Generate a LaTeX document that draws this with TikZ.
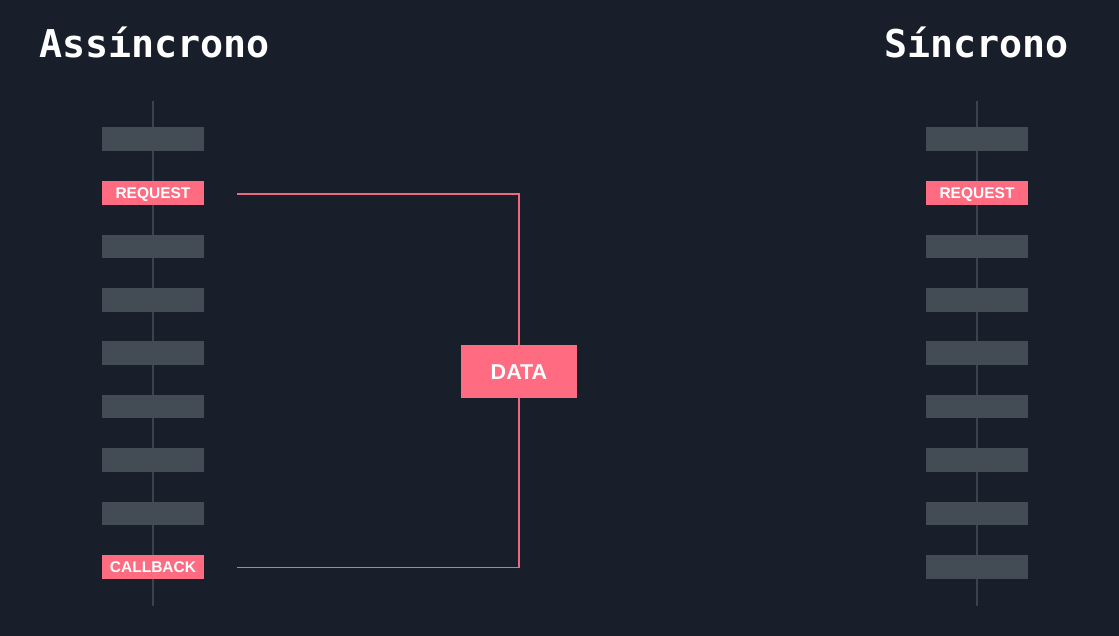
\documentclass[tikz,border=0pt]{standalone}
\usepackage{fontspec}
\setmainfont{Liberation Sans}
\newfontfamily\titlefont{DejaVu Sans Mono}
\newfontfamily\labelfont{Liberation Sans}
\definecolor{bgc}{HTML}{181F2B}
\definecolor{slot}{HTML}{434B55}
\definecolor{axisc}{HTML}{3B434E}
\definecolor{pinkc}{HTML}{FF6B80}
\definecolor{linkc}{HTML}{EE687E}
\begin{document}
\begin{tikzpicture}[x=1pt,y=-1pt,
  slotbox/.style={fill=slot,draw=none,minimum width=102pt,minimum height=23.5pt,inner sep=0pt,anchor=center},
  callbox/.style={fill=pinkc,draw=none,minimum width=102pt,minimum height=23.5pt,inner sep=0pt,anchor=center,text=white,text height=11.1pt,text depth=0pt,font=\labelfont\bfseries\fontsize{15.5}{15.5}\selectfont},
  databox/.style={fill=pinkc,draw=none,minimum width=116pt,minimum height=53pt,inner sep=0pt,text=white,text height=15.4pt,text depth=0pt,font=\labelfont\bfseries\fontsize{21.5}{21.5}\selectfont},
  axisline/.style={draw=axisc,line width=1.4pt},
  link/.style={draw=linkc,line width=1.7pt},
  title/.style={text=white,font=\titlefont\bfseries\fontsize{38.3}{39}\selectfont,inner sep=0pt}]
\fill[bgc] (0,0) rectangle (1119,636);
\useasboundingbox (0,0) rectangle (1119,636);
% titles
\node[title,anchor=base west] (tA) at (39,58) {Assíncrono};
\node[title,anchor=base east] (tS) at (1069,58) {Síncrono};
% axes
\coordinate (la1) at (153,101);
\coordinate (la2) at (153,606);
\coordinate (ra1) at (977,101);
\coordinate (ra2) at (977,606);
\draw[axisline] (la1) -- (la2);
\draw[axisline] (ra1) -- (ra2);
% left column
\node[slotbox] (L1) at (153,139) {};
\node[callbox] (Lreq) at (153,193) {REQUEST};
\node[slotbox] (L3) at (153,246.5) {};
\node[slotbox] (L4) at (153,300) {};
\node[slotbox] (L5) at (153,353) {};
\node[slotbox] (L6) at (153,406.5) {};
\node[slotbox] (L7) at (153,460) {};
\node[slotbox] (L8) at (153,513.5) {};
\node[callbox] (Lcb) at (153,567) {CALLBACK};
% right column
\node[slotbox] (R1) at (977,139) {};
\node[callbox] (Rreq) at (977,193) {REQUEST};
\node[slotbox] (R3) at (977,246.5) {};
\node[slotbox] (R4) at (977,300) {};
\node[slotbox] (R5) at (977,353) {};
\node[slotbox] (R6) at (977,406.5) {};
\node[slotbox] (R7) at (977,460) {};
\node[slotbox] (R8) at (977,513.5) {};
\node[slotbox] (R9) at (977,567) {};
% data
\node[databox] (data) at (519,371.5) {DATA};
\coordinate (s1) at (237,194);
\coordinate (s2) at (237,567.5);
\draw[link] (s1) -| (data.north);
\draw[link] (s2) -| (data.south);
\end{tikzpicture}
\end{document}
